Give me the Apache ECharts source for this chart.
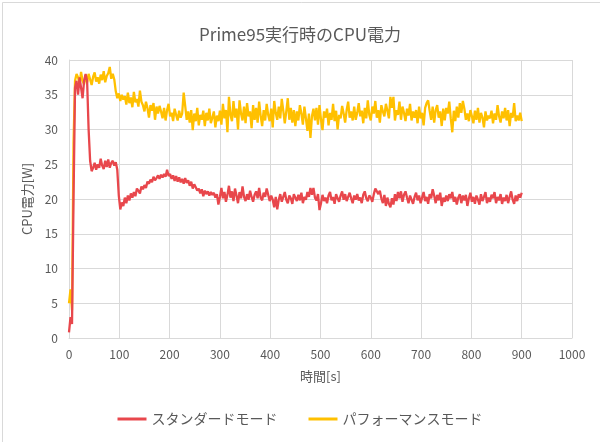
<!DOCTYPE html>
<html>
<head>
<meta charset="utf-8">
<script src="https://cdn.jsdelivr.net/npm/echarts@6/dist/echarts.min.js"></script>
<style>
html,body{margin:0;padding:0;background:#fff;}
#main{width:600px;height:442px;}
</style>
</head>
<body>
<div id="main"></div>
<script>
// Sampling interval of the measurements, seconds (x positions of the samples)
var sampleStep = 3;

var seriesNames = ['スタンダードモード', 'パフォーマンスモード'];

// スタンダードモード CPU power [W], one value per 3 s from 0 s to 900 s
var standardPower = [
  0.8, 3, 2, 20, 36, 37, 35, 37.5, 36, 34.5,
  37, 38, 37, 30, 25.5, 24, 24.5, 25.2, 24.2, 25,
  24.5, 25.8, 24.8, 24.3, 25.5, 24.6, 25.7, 24.5, 25.2, 25.5,
  24.8, 25.3, 24.2, 20.5, 18.5, 19.5, 19, 20.2, 19.4, 20.5,
  19.8, 20.8, 20.2, 21, 20.4, 21.5, 21.2, 20.8, 21.8, 21.4,
  22, 21.6, 22.5, 22.2, 22.8, 22.4, 23.2, 22.7, 23, 23.4,
  22.9, 23.5, 23.1, 23.6, 23.2, 24.2, 23.3, 23.6, 22.9, 23.4,
  22.6, 23.3, 22.5, 23.1, 22.4, 22.9, 22.2, 23, 22.3, 22.7,
  21.9, 22.5, 21.5, 22.1, 21.7, 21.2, 21.5, 20.8, 21.4, 20.4,
  21.2, 20.7, 21.1, 20.5, 21, 20.6, 20.9, 20.2, 20.7, 19.2,
  20.3, 21.6, 20.1, 21.0, 19.6, 20.6, 21.9, 20.2, 21.1, 19.7,
  21.5, 20.5, 19.4, 21.0, 20.1, 21.8, 20.3, 19.7, 20.7, 19.9,
  21.2, 20.3, 19.6, 20.6, 21.1, 20.1, 21.6, 20.2, 19.8, 20.9,
  20.3, 21.5, 20.6, 19.7, 20.5, 19.9, 18.8, 20.3, 18.5, 19.9,
  20.7, 19.6, 20.3, 21.0, 19.9, 19.4, 20.5, 20.1, 19.3, 20.7,
  20.2, 19.7, 20.6, 19.8, 20.9, 19.4, 20.3, 19.9, 21.0, 20.3,
  21.6, 20.6, 21.6, 20.2, 19.8, 20.7, 18.4, 19.4, 20.6, 19.7,
  20.2, 19.4, 20.5, 21.0, 19.8, 20.3, 19.3, 20.7, 20.1, 19.6,
  20.5, 21.1, 19.9, 20.7, 19.7, 20.3, 20.9, 20.1, 19.4, 20.5,
  19.9, 20.7, 19.8, 20.2, 19.4, 20.6, 21.1, 20.1, 19.7, 20.5,
  20.2, 19.6, 20.7, 21.5, 21.7, 20.7, 21.2, 20.1, 19.4, 20.6,
  19.0, 20.2, 19.3, 18.8, 20.1, 19.2, 20.7, 19.7, 21.0, 20.1,
  21.1, 19.6, 20.6, 21.1, 20.2, 19.4, 20.5, 19.9, 19.3, 20.3,
  20.9, 19.8, 20.5, 19.4, 20.2, 21.0, 19.7, 20.3, 19.3, 20.7,
  20.1, 21.4, 20.5, 19.4, 20.6, 19.8, 20.9, 19.0, 20.2, 19.6,
  20.5, 19.7, 20.7, 20.1, 21.0, 19.6, 20.3, 19.2, 20.2, 20.7,
  19.4, 20.5, 19.8, 20.6, 19.0, 20.1, 20.9, 19.6, 20.3, 19.3,
  20.5, 19.9, 19.2, 20.7, 19.7, 20.3, 21.0, 19.4, 20.2, 19.6,
  20.6, 20.1, 21.0, 19.4, 20.3, 19.8, 20.7, 19.3, 20.2, 19.7,
  20.6, 19.4, 20.3, 21.1, 19.9, 19.3, 20.5, 19.7, 20.7, 20.2,
  20.9
];

// パフォーマンスモード CPU power [W], one value per 3 s from 0 s to 900 s
var performancePower = [
  5, 7, 4, 28, 37, 38, 37.5, 36.5, 38.3, 37,
  36.5, 37.8, 36.8, 38, 37.2, 36.4, 37.6, 38.2, 36.9, 37.5,
  36.6, 37.9, 37.1, 38.4, 36.8, 37.7, 38.1, 39, 37.3, 38,
  37.2, 35.5, 34.5, 35.2, 34.1, 35, 34.3, 34.8, 33.6, 35.3,
  33.8, 34.6, 33.2, 35.4, 33.9, 34.4, 33.3, 35.6, 34, 33.5,
  32.6, 34.0, 33.1, 31.7, 33.5, 32.7, 33.8, 31.4, 33.3, 32.3,
  33.4, 32.6, 31.6, 33.1, 31.3, 32.8, 33.7, 31.9, 32.4, 31.2,
  33.0, 32.1, 31.3, 32.7, 31.7, 32.3, 35.3, 33.4, 31.4, 32.6,
  31.0, 32.8, 29.9, 32.3, 31.2, 33.1, 30.6, 32.1, 31.4, 32.7,
  30.5, 32.4, 31.3, 33.0, 30.9, 31.7, 32.6, 30.3, 32.0, 31.2,
  32.7, 30.7, 33.7, 31.6, 32.8, 29.6, 34.7, 32.1, 31.2, 34.1,
  31.7, 33.0, 30.0, 34.2, 32.3, 31.3, 33.3, 30.9, 33.8, 31.9,
  32.6, 30.2, 33.5, 31.4, 33.1, 31.0, 34.0, 32.0, 30.5, 32.8,
  31.3, 33.7, 32.1, 31.2, 33.0, 30.3, 34.1, 32.4, 31.4, 33.3,
  31.6, 34.4, 32.7, 30.9, 32.6, 34.5, 31.4, 33.1, 31.0, 32.8,
  30.5, 32.6, 31.3, 33.5, 32.3, 30.7, 33.3, 31.6, 29.8, 32.3,
  28.8, 31.9, 33.0, 31.3, 33.1, 30.7, 33.5, 31.4, 29.9, 32.6,
  31.7, 33.0, 30.6, 32.4, 31.4, 33.7, 31.2, 32.7, 30.0, 32.1,
  31.6, 33.4, 32.3, 31.0, 32.8, 34.0, 31.7, 32.6, 31.3, 33.3,
  31.4, 32.4, 33.8, 31.9, 32.7, 30.9, 33.1, 31.6, 34.2, 32.1,
  31.3, 33.3, 32.3, 34.1, 31.7, 32.8, 31.0, 33.5, 32.6, 31.9,
  33.7, 32.7, 31.6, 34.7, 33.1, 34.7, 31.3, 32.8, 32.1, 34.0,
  31.4, 33.3, 32.4, 31.2, 33.0, 32.0, 33.7, 31.3, 32.6, 31.7,
  32.8, 30.9, 33.3, 31.6, 32.4, 30.6, 33.1, 33.8, 34.2, 32.7,
  31.4, 33.3, 31.0, 32.8, 33.5, 31.7, 32.6, 30.5, 33.0, 31.3,
  33.1, 32.3, 34.0, 31.6, 29.6, 32.7, 31.2, 33.3, 31.7, 33.8,
  32.4, 34.1, 33.0, 31.4, 32.3, 31.2, 32.8, 31.9, 30.9, 32.7,
  31.4, 33.1, 31.0, 32.4, 31.7, 30.3, 32.6, 31.3, 32.0, 31.6,
  32.7, 30.9, 32.3, 31.4, 33.5, 31.9, 31.0, 32.6, 31.6, 33.1,
  31.3, 32.8, 30.5, 32.4, 31.7, 33.8, 31.2, 32.0, 31.3, 32.4,
  31.2
];

var titleText = 'Prime95実行時のCPU電力';
var xAxisName = '時間[s]';
var yAxisName = 'CPU電力[W]';

function toPairs(values) {
  var out = [];
  for (var i = 0; i < values.length; i++) out.push([i * sampleStep, values[i]]);
  return out;
}

var font = '"Noto Sans CJK JP", "Noto Sans", sans-serif';
var textColor = '#595959';
var gridColor = '#d9d9d9';

var chart = echarts.init(document.getElementById('main'), null, {renderer: 'canvas'});
chart.setOption({
  animation: false,
  backgroundColor: '#ffffff',
  textStyle: {fontFamily: font},
  title: {
    text: titleText,
    left: 'center',
    top: 21,
    textStyle: {fontFamily: font, fontSize: 17, fontWeight: 'normal', color: textColor}
  },
  legend: {
    bottom: 11,
    left: 'center',
    itemWidth: 29,
    itemHeight: 3,
    itemGap: 31,
    icon: 'rect',
    textStyle: {fontFamily: font, fontSize: 14, color: textColor},
    data: seriesNames
  },
  grid: {left: 69, right: 28, top: 60, bottom: 104, containLabel: false},
  xAxis: {
    type: 'value',
    min: 0, max: 1000, interval: 100,
    name: xAxisName,
    nameLocation: 'middle',
    nameGap: 32,
    nameTextStyle: {fontFamily: font, fontSize: 13, color: textColor},
    axisLine: {show: true, lineStyle: {color: gridColor, width: 1}},
    axisTick: {show: false},
    axisLabel: {fontFamily: font, fontSize: 12, color: textColor, margin: 10,
      formatter: function (v) { return String(v); }},
    splitLine: {show: true, lineStyle: {color: gridColor, width: 1}}
  },
  yAxis: {
    type: 'value',
    min: 0, max: 40, interval: 5,
    name: yAxisName,
    nameLocation: 'middle',
    nameGap: 34,
    nameRotate: 90,
    nameTextStyle: {fontFamily: font, fontSize: 13, color: textColor},
    axisLine: {show: true, lineStyle: {color: gridColor, width: 1}},
    axisTick: {show: false},
    axisLabel: {fontFamily: font, fontSize: 12, color: textColor, margin: 11},
    splitLine: {show: true, lineStyle: {color: gridColor, width: 1}}
  },
  series: [
    {
      name: seriesNames[0], type: 'line', data: toPairs(standardPower),
      symbol: 'none', lineStyle: {color: '#e8474c', width: 2.3}, itemStyle: {color: '#e8474c'}, z: 3
    },
    {
      name: seriesNames[1], type: 'line', data: toPairs(performancePower),
      symbol: 'none', lineStyle: {color: '#ffc000', width: 2.3}, itemStyle: {color: '#ffc000'}, z: 2
    }
  ],
  graphic: [{
    type: 'rect', left: 0, top: 0, silent: true,
    shape: {x: 0.5, y: 0.5, width: 599, height: 441},
    style: {fill: 'none', stroke: '#d9d9d9', lineWidth: 1}
  }]
});
</script>
</body>
</html>
